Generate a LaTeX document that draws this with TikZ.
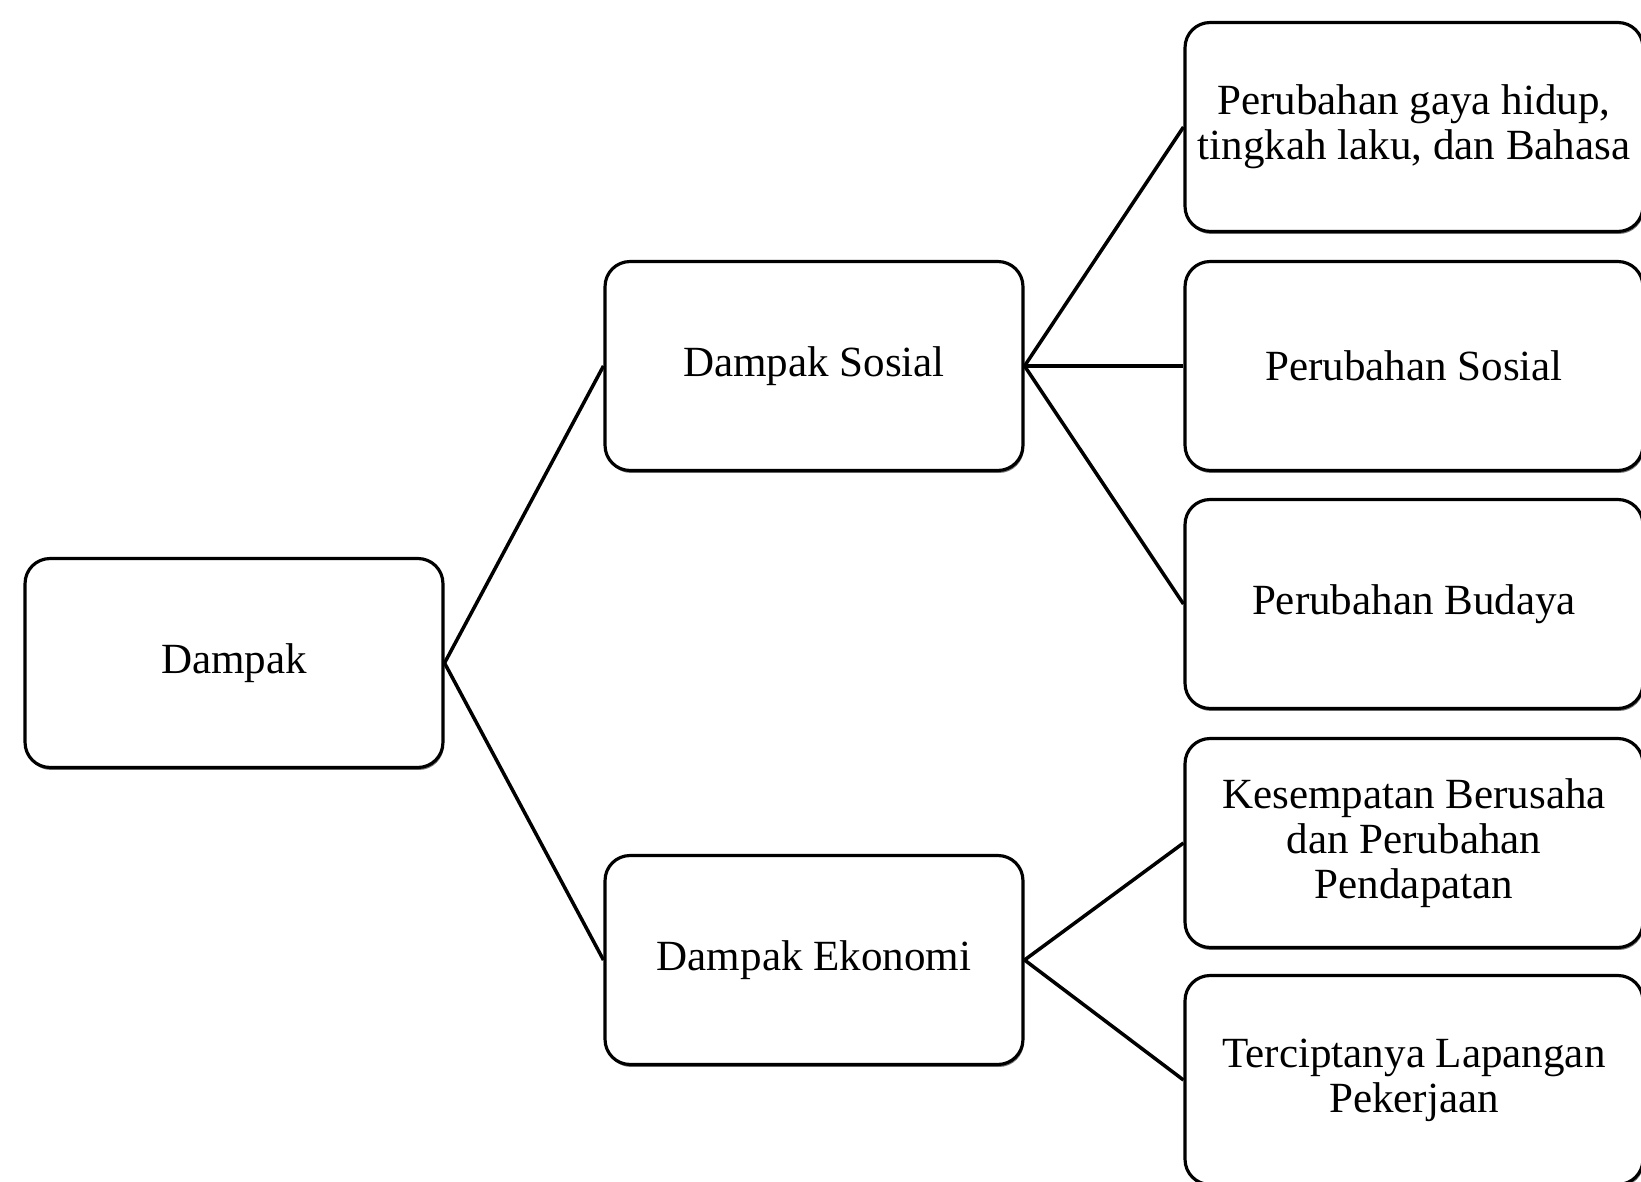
\documentclass[tikz,border=0pt]{standalone}
\usepackage{fontspec}
\setmainfont{Liberation Serif}
\usetikzlibrary{shadows}

\begin{document}
\begin{tikzpicture}[x=0.02cm, y=-0.02cm,
    box/.style={draw, rounded corners=0.5cm, line width=1.8pt, fill=white,
      align=center, font=\fontsize{24.5}{25.5}\selectfont, inner sep=2pt,
      drop shadow={shadow xshift=0.02cm, shadow yshift=-0.05cm, fill=black!55, opacity=1}},
    midbox/.style={box, minimum width=8.36cm, minimum height=4.18cm},
    leafbox/.style={box, minimum width=9.16cm, minimum height=4.18cm},
    link/.style={line width=2pt}]
  \useasboundingbox (0, 0) rectangle (1641, 1182);

  \node[midbox] (dampak) at (234, 663) {Dampak};
  \node[midbox] (sosial) at (814, 366) {Dampak Sosial};
  \node[midbox] (ekonomi) at (814, 960) {Dampak Ekonomi};

  \node[leafbox] (gaya) at (1414, 127) {Perubahan gaya hidup,\\tingkah laku, dan Bahasa};
  \node[leafbox] (sos) at (1414, 366) {Perubahan Sosial};
  \node[leafbox] (budaya) at (1414, 604) {Perubahan Budaya};
  \node[leafbox] (usaha) at (1414, 843) {Kesempatan Berusaha\\dan Perubahan\\Pendapatan};
  \node[leafbox] (kerja) at (1414, 1080) {Terciptanya Lapangan\\Pekerjaan};

  \draw[link] (sosial.west) -- (dampak.east) -- (ekonomi.west);
  \draw[link] (sosial.east) -- (gaya.west);
  \draw[link] (sosial.east) -- (sos.west);
  \draw[link] (sosial.east) -- (budaya.west);
  \draw[link] (ekonomi.east) -- (usaha.west);
  \draw[link] (ekonomi.east) -- (kerja.west);
\end{tikzpicture}
\end{document}
